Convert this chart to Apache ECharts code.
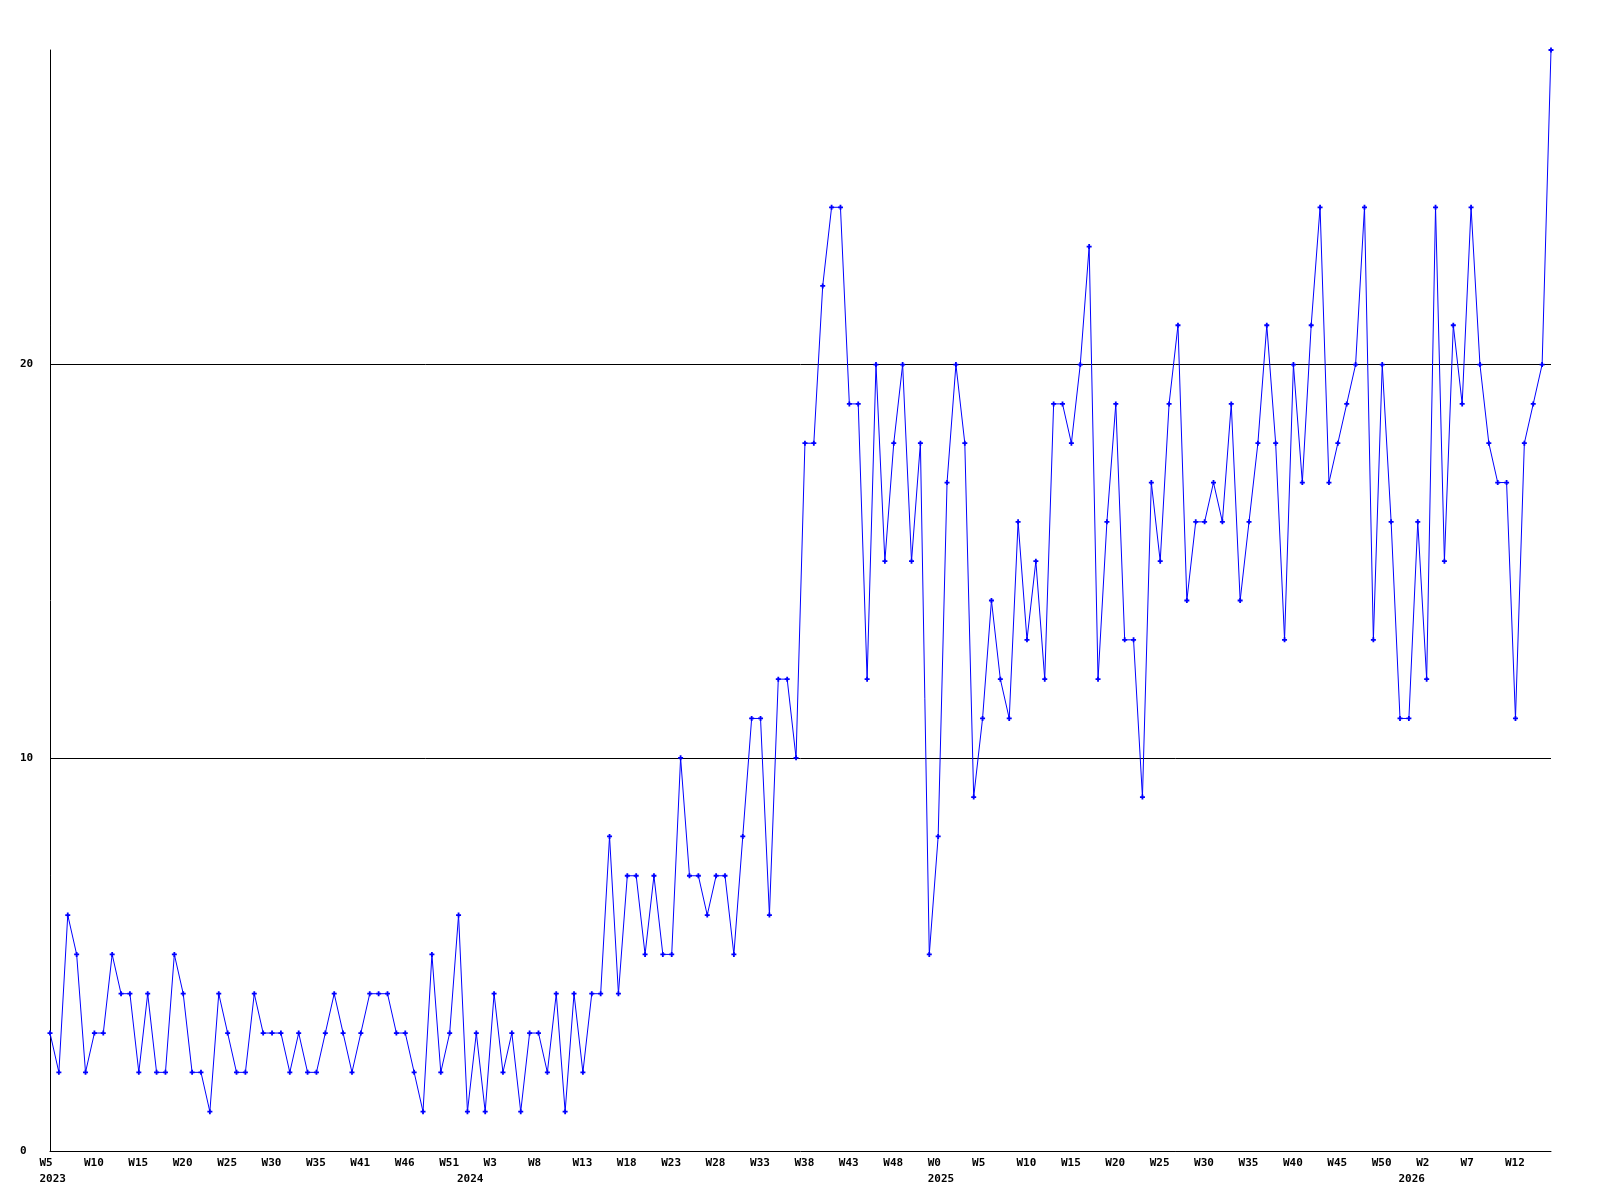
<!DOCTYPE html>
<html>
<head>
<meta charset="utf-8">
<script src="https://cdn.jsdelivr.net/npm/echarts@6/dist/echarts.min.js"></script>
<style>
html,body{margin:0;padding:0;background:#fff;}
#chart{width:1600px;height:1200px;}
</style>
</head>
<body>
<div id="chart"></div>
<script>
// Week tick labels (one every 5 points)
const weekTickLabels = ['W5','W10','W15','W20','W25','W30','W35','W41','W46','W51',
  'W3','W8','W13','W18','W23','W28','W33','W38','W43','W48',
  'W0','W5','W10','W15','W20','W25','W30','W35','W40','W45','W50',
  'W2','W7','W12'];
// Year labels and the point index where each year starts
const yearLabels = ['2023','2024','2025','2026'];
const yearLabelIndex = [0, 47, 100, 153];
// Weekly values
const values = [
  3,2,6,5,2,3,3,5,4,4,2,4,2,2,5,4,2,2,1,4,3,2,2,4,3,3,3,2,3,2,
  2,3,4,3,2,3,4,4,4,3,3,2,1,5,2,3,6,1,3,1,4,2,3,1,3,3,2,4,1,4,2,4,4,
  8,4,7,7,5,7,5,5,10,7,7,6,7,7,5,8,11,11,6,12,12,10,
  18,18,22,24,24,19,19,12,20,15,18,20,15,18,5,8,17,20,18,9,11,14,12,11,16,13,15,12,19,19,18,20,23,12,16,
  19,13,13,9,17,15,19,21,14,16,16,17,16,19,14,16,18,21,18,13,20,17,21,24,17,18,
  19,20,24,13,20,16,11,11,16,12,24,15,21,19,24,20,18,17,17,11,18,19,20,28
];
const categories = values.map((_, i) => String(i));

const font = {fontFamily: 'DejaVu Sans Mono', fontWeight: 'bold', fontSize: 11, color: '#000'};

const chart = echarts.init(document.getElementById('chart'), null, {renderer: 'canvas'});
chart.setOption({
  animation: false,
  backgroundColor: '#fff',
  grid: [
    {left: 50, right: 49, top: 50, bottom: 49, containLabel: false},
    {left: 39.5, right: 59.5, top: 50, bottom: 49, containLabel: false}
  ],
  xAxis: [
    {
      type: 'category', gridIndex: 0, position: 'bottom', data: categories, boundaryGap: false,
      axisLine: {show: true, lineStyle: {color: '#000', width: 1}},
      axisTick: {show: false},
      axisLabel: {show: false},
      splitLine: {show: false}
    },
    {
      type: 'category', gridIndex: 1, position: 'bottom', data: categories, boundaryGap: false,
      axisLine: {show: false}, axisTick: {show: false}, splitLine: {show: false},
      axisLabel: Object.assign({
        show: true, align: 'left', margin: 7, lineHeight: 11,
        interval: (i) => i % 5 === 0,
        formatter: (v, i) => (i % 5 === 0 && weekTickLabels[i / 5]) ? weekTickLabels[i / 5] : ''
      }, font)
    },
    {
      type: 'category', gridIndex: 1, position: 'bottom', offset: 0, data: categories, boundaryGap: false,
      axisLine: {show: false}, axisTick: {show: false}, splitLine: {show: false},
      axisLabel: Object.assign({
        show: true, align: 'left', margin: 22.5, lineHeight: 11,
        interval: (i) => yearLabelIndex.indexOf(i) >= 0,
        formatter: (v, i) => {
          const k = yearLabelIndex.indexOf(i);
          return k >= 0 ? yearLabels[k] : '';
        }
      }, font)
    }
  ],
  yAxis: [
    {
      type: 'value', gridIndex: 0, min: 0, max: 28, interval: 10,
      axisLine: {show: true, lineStyle: {color: '#000', width: 1}},
      axisTick: {show: false},
      axisLabel: Object.assign({show: true, align: 'left', margin: 30, showMaxLabel: false}, font),
      splitLine: {show: true, showMinLine: false, showMaxLine: false, lineStyle: {color: '#000', width: 1}}
    },
    {
      type: 'value', gridIndex: 1, min: 0, max: 28, show: false
    }
  ],
  series: [
    {
      type: 'line', xAxisIndex: 0, yAxisIndex: 0, data: values,
      lineStyle: {color: '#0000ff', width: 1},
      itemStyle: {color: '#0000ff'},
      symbol: 'path://M1.6,0H3.4V1.6H5V3.4H3.4V5H1.6V3.4H0V1.6H1.6Z',
      symbolSize: 5,
      showAllSymbol: true,
      emphasis: {disabled: true}
    }
  ]
});
</script>
</body>
</html>
